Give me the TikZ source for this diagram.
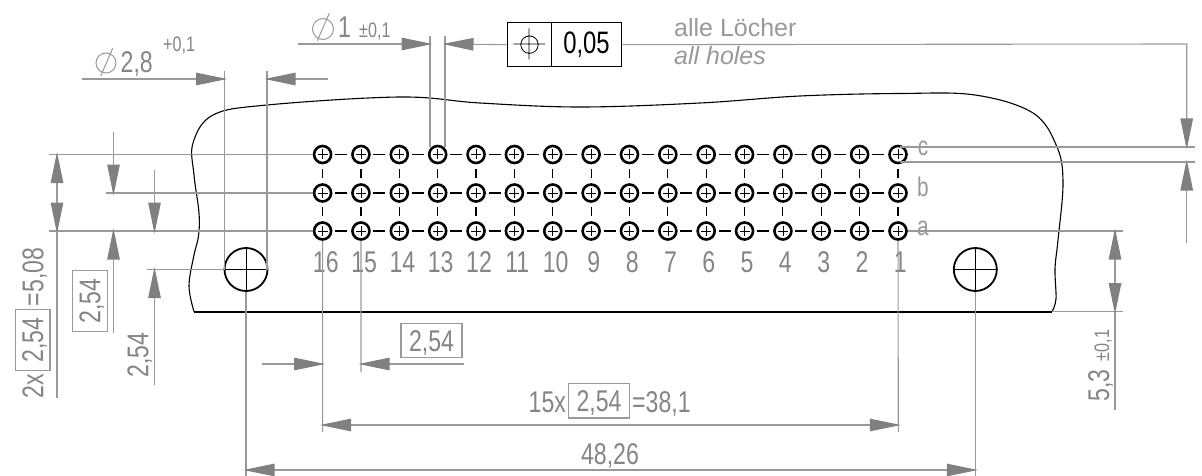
\documentclass[tikz,border=0pt]{standalone}
\usepackage{fontspec}
\setmainfont[FakeStretch=0.77]{Liberation Sans}
\newfontfamily\widef{Liberation Sans}
\usetikzlibrary{arrows.meta}
\definecolor{dimc}{gray}{0.6}
\definecolor{tipc}{gray}{0.5}
\definecolor{txtc}{gray}{0.52}
\definecolor{lettc}{gray}{0.6}
\tikzset{
 x=1pt,y=-1pt,
 dimline/.style={draw=dimc,line width=1.1pt},
 dimarr/.style={dimline,shorten <=-2.5pt,shorten >=-2.5pt,{Triangle[length=31pt,width=12.5pt,color=tipc]}-{Triangle[length=31pt,width=12.5pt,color=tipc]}},
 endarr/.style={dimline,shorten >=-2.5pt,-{Triangle[length=31pt,width=12.5pt,color=tipc]}},
 lbl/.style={inner sep=0pt,text=txtc,font=\fontsize{30}{30}\selectfont},
 small/.style={inner sep=0pt,text=txtc,font=\fontsize{21}{21}\selectfont},
 note/.style={inner sep=0pt,text=lettc,font=\widef\fontsize{25}{25}\selectfont},
 letter/.style={inner sep=0pt,text=lettc,font=\fontsize{27}{27}\selectfont},
 boxed/.style={lbl,draw=dimc,line width=1.1pt,inner sep=0pt,minimum width=61pt,minimum height=34.5pt,text depth=0pt,text height=21pt},
 pin/.style={circle,draw=black,line width=2.6pt,minimum size=17pt,inner sep=0pt},
 hole/.style={circle,draw=black,line width=1.8pt,minimum size=43pt,inner sep=0pt},
 outline/.style={draw=black,line width=1.1pt},
 center/.style={draw=black,line width=1.1pt},
 phi/.style={draw=dimc,line width=1pt},
 frm/.style={draw=black,line width=1.3pt,minimum height=44pt,inner sep=0pt,anchor=north west},
}
\begin{document}
\begin{tikzpicture}
\useasboundingbox (0,0) rectangle (1202,476);
% outline
\draw[outline] plot[smooth,tension=0.6] coordinates {(194,311.5)(189,286)(194,255)(198.5,236)(199,213)(194,175)(193,143)(213,115)(267,105)(400,97)(480,103)(580,107)(700,103)(800,96)(900,93.5)(975,95)(1033,113)(1057,147)(1063,183)(1058,240)(1055,269)(1056,299)(1052,311.5)};
\draw[black,line width=2pt] (194,311.5) -- (1052,311.5);
% pins
\foreach \i in {0,...,15}{
 \pgfmathsetmacro{\px}{322.6+38.36*\i}
 \foreach \r/\py in {c/154.5,b/193,a/231}{
  \node[pin] (p\r\i) at (\px,\py) {};
  \draw[black,line width=0.6pt] (\px-5,\py)--(\px+5,\py) (\px,\py-5)--(\px,\py+5);
 }
 \draw[center] (\px,169)--(\px,178) (\px,207)--(\px,216);
 \ifnum\i<15
 \foreach \py in {154.5,193,231}{\draw[center] (\px+12.5,\py)--(\px+24.5,\py);}
 \fi
}
% numbers
\foreach \i/\n in {0/16,1/15,2/14,3/13,4/12,5/11,6/10,7/9,8/8,9/7,10/6,11/5,12/4,13/3,14/2,15/1}{
 \node[lbl,anchor=base] at (325.8+38.3*\i,272) {\n};
}
\node[letter,anchor=base] at (923,156) {c};
\node[letter,anchor=base] at (923,196) {b};
\node[letter,anchor=base] at (923,235) {a};
% holes
\node[hole] (hl) at (246,269.5) {};
\node[hole] (hr) at (975.3,269.5) {};
\draw[black,line width=0.8pt] (224,269.5)--(268,269.5) (246,247.5)--(246,291.5) (953,269.5)--(997.5,269.5);
\draw[black,line width=0.8pt] (975.3,247.5)--(975.3,291.5);
% phi 2.8
\draw[dimline] (224.6,71)--(224.6,269.5) (267,71)--(267,269.5);
\coordinate (a1) at (82,79); \coordinate (a2) at (328,79);
\coordinate (a3) at (224.6,79); \coordinate (a4) at (267,79);
\draw[endarr] (a1)--(a3);
\draw[endarr] (a2)--(a4);
\node[lbl,anchor=base west] at (120.5,73) {2,8};
\node[small,anchor=base west] at (163,52) {+0,1};
\draw[phi] (106,63) circle (10) (100.7,76)--(112.7,48.3);
% phi 1
\draw[dimline] (430,36)--(430,147) (445,36)--(445,147);
\coordinate (b1) at (298,44); \coordinate (b2) at (430,44); \coordinate (b3) at (445,44);
\draw[endarr] (b1)--(b2);
\node[lbl,anchor=base west] at (338,38) {1};
\node[small,anchor=base west] at (359,38) {±0,1};
\draw[phi] (323,29) circle (10.5) (317.3,40.7)--(329.3,13.3);
% frame
\node[frm,minimum width=44.3pt] (f1) at (506.7,22) {};
\node[frm,minimum width=70.3pt,font=\fontsize{31}{31}\selectfont] (f2) at (550.7,22) {0,05};
\draw[black,line width=0.8pt] (f1.center) circle (8.7) (513.3,44)--(545,44) (529,28.3)--(529,59.3);
\draw[endarr] (f1.west)--(b3);
\coordinate (c1) at (1186.7,44); \coordinate (c2) at (1186.7,147);
\coordinate (c3) at (1186.7,243); \coordinate (c4) at (1186.7,162);
\draw[endarr] (f2.east)--(c1)--(c2);
\draw[endarr] (c3)--(c4);
\node[note,anchor=base west] at (674,36.5) {alle Löcher};
\node[note,anchor=base west,font=\widef\fontsize{25}{25}\selectfont\itshape] at (674,65) {all holes};
\draw[dimline] (900,147)--(1195,147) (900,162)--(1195,162);
% left extension lines
\draw[dimline] (49,154.5)--(pc0) (106,193)--(pb0) (49,231)--(pa0);
\draw[dimline] (pa15)--(1123,231) (1052,311.5)--(1123,311.5);
\draw[dimline] (147,269.5)--(hl);
\draw[dimarr] (57,154.5)--(57,231);
\draw[dimline] (57,231)--(57,398);
\draw[endarr] (113.5,132)--(113.5,193);
\draw[endarr] (113.5,333)--(113.5,231);
\draw[endarr] (154.5,170)--(154.5,231);
\draw[endarr] (154.5,385)--(154.5,269.5);
% rotated labels
\node[lbl,rotate=90,anchor=base west] at (43.3,306.5) {=5,08};
\node[boxed,rotate=90] (t1) at (32.7,339.8) {2,54};
\node[lbl,rotate=90,anchor=base west] at (43.3,398.5) {2x};
\node[boxed,rotate=90] (t2) at (89.8,300.8) {2,54};
\node[lbl,rotate=90,anchor=base west] at (148.3,377.5) {2,54};
% pin extensions
\draw[dimline] (pa0)--(322.6,432) (pa1)--(361,372) (pa15)--(898.3,432);
\draw[dimline] (hl)--(246,476) (hr)--(975.3,476);
% 2.54
\draw[endarr] (262,364)--(322.6,364);
\draw[endarr] (464,364)--(361,364);
\node[boxed] (t3) at (431.5,340.5) {2,54};
% 15x
\draw[dimarr] (322.6,425)--(898.3,425);
\node[lbl,anchor=base west] at (528.5,412) {15x};
\node[boxed] (t4) at (599,400.7) {2,54};
\node[lbl,anchor=base west] at (632,412) {=38,1};
% 48,26
\draw[dimarr] (246,470)--(975.3,470);
\node[lbl,anchor=base] at (610,464.3) {48,26};
% 5.3
\draw[dimarr] (1115,231)--(1115,311.5);
\draw[dimline] (1115,311.5)--(1115,410);
\node[lbl,rotate=90,anchor=base west] at (1109,402) {5,3};
\node[small,rotate=90,anchor=base west] at (1109,361.5) {±0,1};
\end{tikzpicture}
\end{document}
